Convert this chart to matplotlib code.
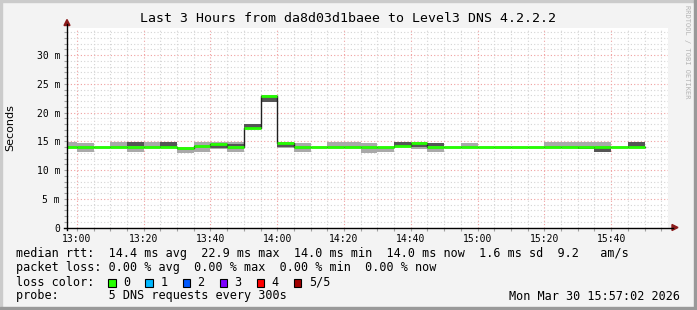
import numpy as np
import pandas as pd
import matplotlib
matplotlib.use("Agg")
import matplotlib.pyplot as plt
import matplotlib.dates as mdates
from matplotlib.ticker import MultipleLocator, FuncFormatter
from matplotlib.lines import Line2D
from matplotlib.patches import Rectangle, Polygon

W, H = 697, 310
MONO = "DejaVu Sans Mono"

# 5 minute steps, values in ms
times = pd.date_range("2026-03-30 12:55", periods=35, freq="5min")
median = [14.0, 14.0, 14.0, 14.0, 14.0, 14.0, 14.0, 13.9, 14.2, 14.6,
          14.0, 17.3, 22.9, 14.7, 14.0, 14.0, 14.0, 14.0, 14.0, 14.0,
          14.2, 14.7, 14.0, 14.0, 14.0, 14.0, 14.0, 14.0, 14.0, 14.0,
          14.0, 14.0, 14.0, 14.0, 14.0]
smoke_lo = [13.75, 13.2, 14.0, 14.0, 13.2, 14.0, 14.0, 12.9, 13.2, 13.7,
            13.2, 17.2, 21.9, 13.9, 13.2, 14.0, 14.0, 13.9, 13.0, 13.2,
            14.2, 13.65, 13.1, 14.0, 14.0, 14.0, 14.0, 14.0, 14.0, 14.0,
            14.0, 13.65, 13.1, 14.0, 14.0]
smoke_hi = [14.9, 14.75, 14.0, 14.9, 14.8, 14.9, 14.8, 14.0, 14.9, 14.8,
            14.9, 18.0, 23.0, 14.9, 14.75, 14.0, 14.9, 14.9, 14.75, 14.0,
            14.85, 14.85, 14.75, 14.0, 14.75, 14.0, 14.0, 14.0, 14.0, 14.9,
            14.9, 14.9, 14.9, 14.0, 14.8]
nan = np.nan
dark_lo = [nan, nan, nan, nan, 14.2, nan, 14.0, nan, nan, 13.9,
           14.1, 17.2, 21.9, 14.05, nan, nan, nan, nan, nan, nan,
           14.2, 14.05, 14.2, nan, nan, nan, nan, nan, nan, nan,
           nan, 13.65, 13.1, nan, 14.0]
dark_hi = [nan, nan, nan, nan, 14.8, nan, 14.8, nan, nan, 14.5,
           14.5, 18.0, 22.8, 14.55, nan, nan, nan, nan, nan, nan,
           14.85, 14.5, 14.75, nan, nan, nan, nan, nan, nan, nan,
           nan, 13.9, 13.9, nan, 14.8]

loss_colors = ["#26ff00", "#00b8ff", "#0059ff", "#7e00ff", "#ff0000", "#a10000"]
loss_labels = ["0", "1", "2", "3", "4", "5/5"]

title = "Last 3 Hours from da8d03d1baee to Level3 DNS 4.2.2.2"
stats_rtt = "median rtt:  14.4 ms avg  22.9 ms max  14.0 ms min  14.0 ms now  1.6 ms sd  9.2   am/s"
stats_loss = "packet loss: 0.00 % avg  0.00 % max  0.00 % min  0.00 % now"
probe = "probe:       5 DNS requests every 300s"
stamp = "Mon Mar 30 15:57:02 2026"
t_start = pd.Timestamp("2026-03-30 12:57:02")
t_end = pd.Timestamp("2026-03-30 15:57:02")


def fx(x):
    return x / W


def fy(y):
    return 1 - y / H


fig = plt.figure(figsize=(W / 100, H / 100), dpi=100, facecolor="#f3f3f3")
ax = fig.add_axes([fx(67), fy(227.5), (668 - 67) / W, (227.5 - 28) / H])
ax.set_facecolor("white")

x = mdates.date2num(times)
step = 5 / 1440
lo = np.array(smoke_lo)
hi = np.array(smoke_hi)
ax.bar(x, hi - lo, bottom=lo, width=step, align="edge", color="#a9a9a9", linewidth=0, zorder=2)
dlo = np.array(dark_lo)
dhi = np.array(dark_hi)
ok = ~np.isnan(dlo)
ax.bar(x[ok], (dhi - dlo)[ok], bottom=dlo[ok], width=step, align="edge",
       color="#555555", linewidth=0, zorder=3)

xs = np.append(x, x[-1] + step)
ax.step(xs, median + [median[-1]], where="post", color="#202020", lw=1, zorder=4)
ax.hlines(median, x, x + step, color=loss_colors[0], lw=2, zorder=5)

ax.set_xlim(mdates.date2num(t_start), mdates.date2num(t_end))
ax.set_ylim(0, 34.7)

ax.xaxis.set_major_locator(mdates.MinuteLocator(byminute=[0, 20, 40]))
ax.xaxis.set_minor_locator(mdates.MinuteLocator(byminute=range(0, 60, 5)))
ax.xaxis.set_major_formatter(mdates.DateFormatter("%H:%M"))
ax.yaxis.set_major_locator(MultipleLocator(5))
ax.yaxis.set_minor_locator(MultipleLocator(1))
ax.yaxis.set_major_formatter(FuncFormatter(lambda v, p: "0" if v == 0 else "%d m" % v))

ax.grid(which="minor", color="#d4d4d4", ls=(0, (1, 2)), lw=0.8)
ax.grid(which="major", color="#f0a0a0", ls=(0, (1, 2)), lw=0.8)
ax.set_axisbelow(True)
for s in ax.spines.values():
    s.set_visible(False)
ax.tick_params(which="both", length=2, width=0.8, color="#a0a0a0", pad=3,
               labelsize=7)
for lab in ax.get_xticklabels() + ax.get_yticklabels():
    lab.set_family(MONO)

# axis lines with arrows
fig.add_artist(Line2D([fx(64), fx(673)], [fy(227.5), fy(227.5)], color="black", lw=1))
fig.add_artist(Line2D([fx(67), fx(67)], [fy(230), fy(24)], color="black", lw=1))
fig.add_artist(Polygon([[fx(672), fy(224.5)], [fx(678), fy(227.5)], [fx(672), fy(230.5)]],
                       closed=True, color="#8b1a1a", transform=fig.transFigure))
fig.add_artist(Polygon([[fx(64), fy(25.5)], [fx(67), fy(19.5)], [fx(70), fy(25.5)]],
                       closed=True, color="#8b1a1a", transform=fig.transFigure))

# texts
fig.text(fx(348), fy(19), title, ha="center", va="center", fontsize=9.55, family=MONO)
fig.text(fx(10), fy(128), "Seconds", rotation=90, ha="center", va="center",
         fontsize=8, family="DejaVu Sans")
fig.text(fx(687), fy(5), "RRDTOOL / TOBI OETIKER", rotation=270, ha="center", va="top",
         fontsize=5, family=MONO, color="#b4b4b4")

fs = 8.5
fig.text(fx(16), fy(254), stats_rtt, va="center", fontsize=fs, family=MONO)
fig.text(fx(16), fy(268), stats_loss, va="center", fontsize=fs, family=MONO)
fig.text(fx(16), fy(282), "loss color:", va="center", fontsize=fs, family=MONO)
for k, (c, lab) in enumerate(zip(loss_colors, loss_labels)):
    x0 = 108.3 + k * 37.1
    fig.add_artist(Rectangle((fx(x0), fy(286.5)), 7.5 / W, 8 / H, facecolor=c,
                             edgecolor="black", lw=0.8, transform=fig.transFigure))
    fig.text(fx(x0 + 15), fy(282), lab, va="center", fontsize=fs, family=MONO)
fig.text(fx(16), fy(296), probe, va="center", fontsize=fs, family=MONO)
fig.text(fx(680), fy(296), stamp, ha="right", va="center", fontsize=fs, family=MONO)

# 3d frame
fig.add_artist(Rectangle((0, 0), 2 / W, 1, color="#cbcbcb", transform=fig.transFigure))
fig.add_artist(Rectangle((0, 1 - 2 / H), 1, 2 / H, color="#cbcbcb", transform=fig.transFigure))
fig.add_artist(Rectangle((1 - 3 / W, 0), 3 / W, 1, color="#999999", transform=fig.transFigure))
fig.add_artist(Rectangle((0, 0), 1, 3 / H, color="#999999", transform=fig.transFigure))

fig.savefig("out.png", dpi=100, facecolor=fig.get_facecolor())
